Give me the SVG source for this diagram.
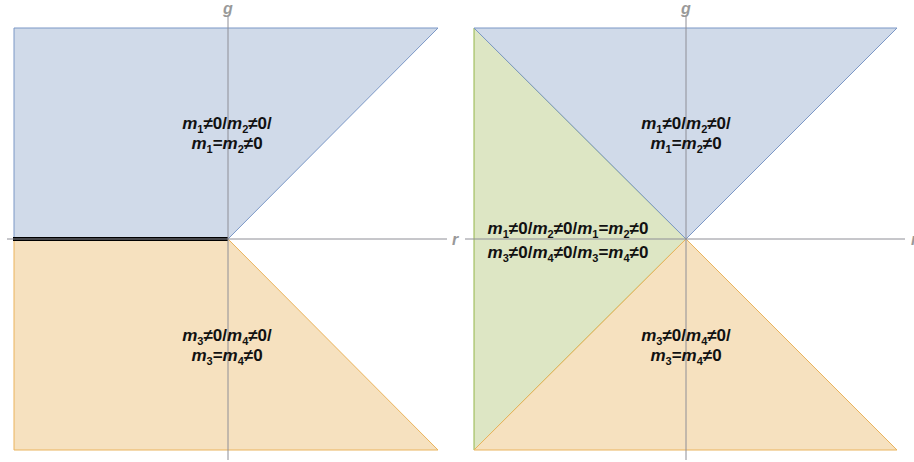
<svg xmlns="http://www.w3.org/2000/svg" width="914" height="462" viewBox="0 0 914 462">
<style>
.blue{fill:#d0dae9;stroke:#7b97c6;stroke-width:1}
.orange{fill:#f6e1bf;stroke:#eab35c;stroke-width:1}
.green{fill:#dde6c4;stroke:#94b548;stroke-width:1}
.axis{stroke:#8e8e96;stroke-width:1;fill:none}
.alab{font-family:"Liberation Sans",Arial,sans-serif;font-style:italic;font-weight:bold;font-size:16px;fill:#999}
.lab{font-family:"Liberation Sans",Arial,sans-serif;font-weight:bold;font-size:17px;fill:#111;text-anchor:middle}
.m{font-style:italic}
.s{font-size:11px}
</style>
<g id="left-blue"><polygon class="blue" points="14,28 438,28 228,239 14,239"/></g>
<g id="left-orange"><polygon class="orange" points="14,239 228,239 438,450 14,450"/></g>
<g id="right-green"><polygon class="green" points="474,28 686,239 474,450"/></g>
<g id="right-blue"><polygon class="blue" points="474,28 897,28 686,239"/></g>
<g id="right-orange"><polygon class="orange" points="686,239 897,450 474,450"/></g>
<g id="connectors">
<line x1="13" y1="239" x2="228" y2="239" stroke="#000" stroke-width="4"/>
<line class="axis" x1="228" y1="16" x2="228" y2="460"/>
<line class="axis" x1="7" y1="239" x2="447" y2="239"/>
<line class="axis" x1="686" y1="16" x2="686" y2="460"/>
<line class="axis" x1="465" y1="239" x2="905" y2="239"/>
</g>
<g id="axis-labels">
<text class="alab" x="228" y="14" text-anchor="middle">g</text>
<text class="alab" x="455" y="245" text-anchor="middle">r</text>
<text class="alab" x="686" y="14" text-anchor="middle">g</text>
<text class="alab" x="914" y="245" text-anchor="middle">r</text>
</g>
<g id="label-left-blue">
<text class="lab" x="227" y="129"><tspan class="m">m</tspan><tspan class="s" dy="4">1</tspan><tspan dy="-4">≠0/</tspan><tspan class="m">m</tspan><tspan class="s" dy="4">2</tspan><tspan dy="-4">≠0/</tspan></text>
<text class="lab" x="227" y="149"><tspan class="m">m</tspan><tspan class="s" dy="4">1</tspan><tspan dy="-4">=</tspan><tspan class="m">m</tspan><tspan class="s" dy="4">2</tspan><tspan dy="-4">≠0</tspan></text>
</g>
<g id="label-left-orange">
<text class="lab" x="227" y="341"><tspan class="m">m</tspan><tspan class="s" dy="4">3</tspan><tspan dy="-4">≠0/</tspan><tspan class="m">m</tspan><tspan class="s" dy="4">4</tspan><tspan dy="-4">≠0/</tspan></text>
<text class="lab" x="227" y="361"><tspan class="m">m</tspan><tspan class="s" dy="4">3</tspan><tspan dy="-4">=</tspan><tspan class="m">m</tspan><tspan class="s" dy="4">4</tspan><tspan dy="-4">≠0</tspan></text>
</g>
<g id="label-right-blue">
<text class="lab" x="686" y="129"><tspan class="m">m</tspan><tspan class="s" dy="4">1</tspan><tspan dy="-4">≠0/</tspan><tspan class="m">m</tspan><tspan class="s" dy="4">2</tspan><tspan dy="-4">≠0/</tspan></text>
<text class="lab" x="686" y="149"><tspan class="m">m</tspan><tspan class="s" dy="4">1</tspan><tspan dy="-4">=</tspan><tspan class="m">m</tspan><tspan class="s" dy="4">2</tspan><tspan dy="-4">≠0</tspan></text>
</g>
<g id="label-right-orange">
<text class="lab" x="686" y="341"><tspan class="m">m</tspan><tspan class="s" dy="4">3</tspan><tspan dy="-4">≠0/</tspan><tspan class="m">m</tspan><tspan class="s" dy="4">4</tspan><tspan dy="-4">≠0/</tspan></text>
<text class="lab" x="686" y="361"><tspan class="m">m</tspan><tspan class="s" dy="4">3</tspan><tspan dy="-4">=</tspan><tspan class="m">m</tspan><tspan class="s" dy="4">4</tspan><tspan dy="-4">≠0</tspan></text>
</g>
<g id="label-green">
<text class="lab" x="568" y="234"><tspan class="m">m</tspan><tspan class="s" dy="4">1</tspan><tspan dy="-4">≠0/</tspan><tspan class="m">m</tspan><tspan class="s" dy="4">2</tspan><tspan dy="-4">≠0/</tspan><tspan class="m">m</tspan><tspan class="s" dy="4">1</tspan><tspan dy="-4">=</tspan><tspan class="m">m</tspan><tspan class="s" dy="4">2</tspan><tspan dy="-4">≠0</tspan></text>
<text class="lab" x="568" y="258"><tspan class="m">m</tspan><tspan class="s" dy="4">3</tspan><tspan dy="-4">≠0/</tspan><tspan class="m">m</tspan><tspan class="s" dy="4">4</tspan><tspan dy="-4">≠0/</tspan><tspan class="m">m</tspan><tspan class="s" dy="4">3</tspan><tspan dy="-4">=</tspan><tspan class="m">m</tspan><tspan class="s" dy="4">4</tspan><tspan dy="-4">≠0</tspan></text>
</g>
</svg>
